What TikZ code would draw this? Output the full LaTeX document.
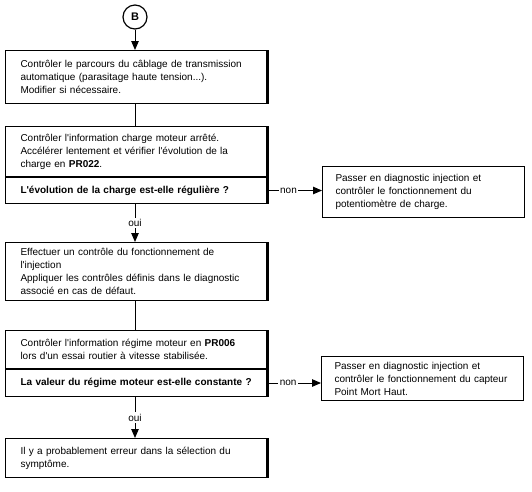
\documentclass[tikz,border=0pt]{standalone}
\usepackage{fontspec}
\setmainfont{Liberation Sans}[Ligatures=TeXOff]
\usetikzlibrary{positioning,arrows.meta}

\begin{document}
\begin{tikzpicture}[x=1pt, y=-1pt, >={Triangle[length=9pt,width=7.5pt]},
    every node/.style={font=\fontsize{10}{13}\selectfont},
    stepbox/.style={draw, line width=1pt, anchor=north west, text width=232pt, inner xsep=15pt, inner ysep=0pt, align=left},
    sidebox/.style={draw, line width=1pt, anchor=north west, text width=176pt, inner xsep=13pt, inner ysep=0pt, align=left},
    link/.style={line width=1pt},
    tag/.style={fill=white, inner sep=1.5pt}]
  \useasboundingbox (0,0) rectangle (532,491);

  % start
  \node[draw, circle, line width=1.2pt, minimum size=24pt, inner sep=0pt, font=\bfseries\fontsize{11}{13}\selectfont] (b) at (135,17) {B};

  % left column
  \node[stepbox, minimum height=53pt] (c1) at (5,50) {Contrôler le parcours du câblage de transmission\\automatique (parasitage haute tension...).\\Modifier si nécessaire.};
  \node[stepbox, minimum height=50pt] (c2) at (5,126) {Contrôler l'information charge moteur arrêté.\\Accélérer lentement et vérifier l'évolution de la\\charge en \textbf{PR022}.};
  \node[stepbox, minimum height=26pt] (q1) at (c2.south west) {\textbf{L'évolution de la charge est-elle régulière ?}};
  \node[stepbox, minimum height=58pt] (c3) at (5,242) {Effectuer un contrôle du fonctionnement de\\l'injection\\Appliquer les contrôles définis dans le diagnostic\\associé en cas de défaut.};
  \node[stepbox, minimum height=38pt] (c4) at (5,330) {Contrôler l'information régime moteur en \textbf{PR006}\\lors d'un essai routier à vitesse stabilisée.};
  \node[stepbox, minimum height=27pt] (q2) at (c4.south west) {\textbf{La valeur du régime moteur est-elle constante ?}};
  \node[stepbox, minimum height=39pt] (c5) at (5,438) {Il y a probablement erreur dans la sélection du\\symptôme.};

  % right column
  \node[sidebox, minimum height=51pt] (r1) at (322,166) {Passer en diagnostic injection et\\contrôler le fonctionnement du\\potentiomètre de charge.};
  \node[sidebox, minimum height=44pt] (r2) at (321,356) {Passer en diagnostic injection et\\contrôler le fonctionnement du capteur\\Point Mort Haut.};

  % thick right edges
  \foreach \t/\u in {c1/c1, c2/q1, c3/c3, c4/q2, c5/c5}
    \draw[line width=3pt] ([xshift=-1pt]\t.north east) -- ([xshift=-1pt]\u.south east);

  % links
  \draw[link,->] (b.south) -- (b.south |- c1.north);
  \draw[link] (b |- c1.south) -- (b |- c2.north);
  \draw[link,->] (b |- q1.south) -- node[tag]{oui} (b |- c3.north);
  \draw[link] (b |- c3.south) -- (b |- c4.north);
  \draw[link,->] (b |- q2.south) -- node[tag]{oui} (b |- c5.north);
  \draw[link,->] (q1.east) -- node[tag, pos=0.38]{non} (q1.east -| r1.west);
  \draw[link,->] (q2.east) -- node[tag, pos=0.38]{non} (q2.east -| r2.west);
\end{tikzpicture}
\end{document}
